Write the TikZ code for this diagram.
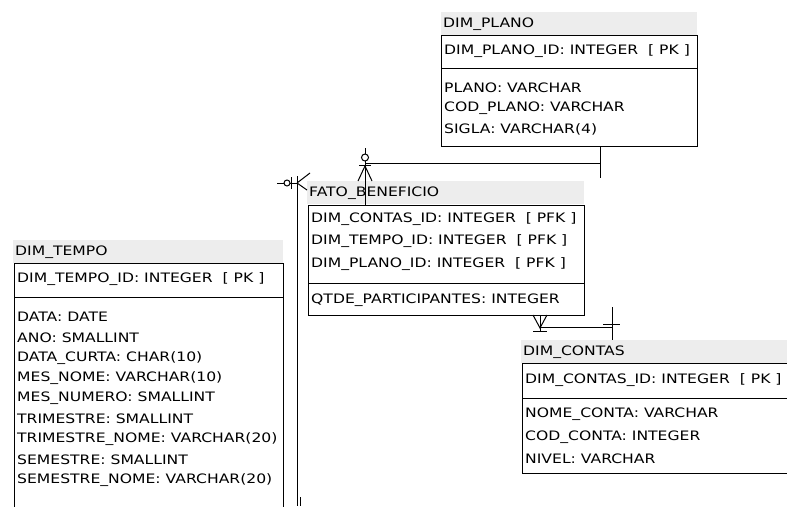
\documentclass[tikz,border=0pt]{standalone}
\usepackage{fontspec}
\setmainfont[FakeStretch=1.2]{DejaVu Sans}
\begin{document}
\begin{tikzpicture}[x=1pt,y=-1pt,
  tbl/.style={draw=black,line width=1pt,anchor=north west,inner sep=0pt,outer sep=0pt},
  hdr/.style={fill=black!7,draw=none,anchor=north west,inner sep=0pt,outer sep=0pt,minimum height=23pt},
  htxt/.style={anchor=west,inner sep=0pt,font=\fontsize{13}{15}\selectfont},
  ftxt/.style={anchor=west,inner sep=0pt,font=\fontsize{13}{15}\selectfont},
  sep/.style={line width=1pt},
  conn/.style={line width=1pt}]
\useasboundingbox (0,0) rectangle (787,506);
% ---------- DIM_PLANO
\node[hdr,minimum width=256pt] (planoh) at (441,12) {};
\node[htxt] (planot) at (443,24) {DIM\_PLANO};
\node[tbl,minimum width=256pt,minimum height=111pt] (plano) at (441,35) {};
\draw[sep] (441,68) -- (697,68);
\node[ftxt] (p1) at (444,51) {DIM\_PLANO\_ID: INTEGER\ \ [ PK ]};
\node[ftxt] (p2) at (444,88) {PLANO: VARCHAR};
\node[ftxt] (p3) at (444,108.5) {COD\_PLANO: VARCHAR};
\node[ftxt] (p4) at (444,129) {SIGLA: VARCHAR(4)};
% ---------- FATO_BENEFICIO
\node[hdr,minimum width=277pt] (fatoh) at (307,181) {};
\node[htxt] (fatot) at (309,193) {FATO\_BENEFICIO};
\node[tbl,minimum width=276pt,minimum height=110pt] (fato) at (308,205) {};
\draw[sep] (308,283) -- (584,283);
\node[ftxt] (f1) at (311,219) {DIM\_CONTAS\_ID: INTEGER\ \ [ PFK ]};
\node[ftxt] (f2) at (311,241.5) {DIM\_TEMPO\_ID: INTEGER\ \ [ PFK ]};
\node[ftxt] (f3) at (311,264) {DIM\_PLANO\_ID: INTEGER\ \ [ PFK ]};
\node[ftxt] (f4) at (311,300) {QTDE\_PARTICIPANTES: INTEGER};
% ---------- DIM_TEMPO
\node[hdr,minimum width=270pt] (tempoh) at (13,240) {};
\node[htxt] (tempot) at (15,252) {DIM\_TEMPO};
\node[tbl,minimum width=269pt,minimum height=260pt] (tempo) at (14,263) {};
\draw[sep] (14,297) -- (283,297);
\node[ftxt] (t0) at (17,279.5) {DIM\_TEMPO\_ID: INTEGER\ \ [ PK ]};
\foreach \t [count=\i from 0] in {DATA: DATE,ANO: SMALLINT,DATA\_CURTA: CHAR(10),MES\_NOME: VARCHAR(10),MES\_NUMERO: SMALLINT,TRIMESTRE: SMALLINT,TRIMESTRE\_NOME: VARCHAR(20),SEMESTRE: SMALLINT,SEMESTRE\_NOME: VARCHAR(20)}
  \node[ftxt] (tf\i) at (17,317+20.4*\i) {\t};
% ---------- DIM_CONTAS
\node[hdr,minimum width=270pt] (contash) at (521,340) {};
\node[htxt] (contast) at (523,352) {DIM\_CONTAS};
\node[tbl,minimum width=270pt,minimum height=110pt] (contas) at (522,363) {};
\draw[sep] (522,398) -- (792,398);
\node[ftxt] (c0) at (525,380) {DIM\_CONTAS\_ID: INTEGER\ \ [ PK ]};
\node[ftxt] (c1) at (525,414) {NOME\_CONTA: VARCHAR};
\node[ftxt] (c2) at (525,437) {COD\_CONTA: INTEGER};
\node[ftxt] (c3) at (525,459) {NIVEL: VARCHAR};
% ---------- connector DIM_PLANO -> FATO
\coordinate (pa) at (600,163);
\coordinate (pb) at (365,163);
\draw[conn] (plano.south -| pa) -- (600,178);
\draw[conn] (pa) -- (pb);
\draw[conn] (365,148) -- (fato.north -| pb);
\draw[conn] (365,166) -- (358,181) (365,166) -- (372,181);
\draw[conn] (359,165) -- (371,165);
\draw[conn,fill=white] (365,157.5) circle (3.5pt);
\draw[conn] (591,163) -- (600,163);
% ---------- connector FATO -> DIM_CONTAS
\coordinate (ca) at (540,327);
\coordinate (cb) at (612,327);
\draw[conn] (ca) -- (cb);
\draw[conn] (612,307) -- (contash.north -| cb);
\draw[conn] (603,324) -- (620,324);
\draw[conn] (533,315) -- (540,328) -- (547,315);
\draw[conn] (fato.south -| ca) -- (540,331);
\draw[conn] (533,331) -- (547,331);
% ---------- connector DIM_TEMPO -> FATO
\coordinate (ta) at (297,183);
\draw[conn] (297,176) -- (297,506);
\draw[conn] (277,183) -- (ta);
\draw[conn] (ta) -- (310,173) (ta) -- (307,190);
\draw[conn] (291,177) -- (291,189);
\draw[conn,fill=white] (287,183) circle (3pt);
\draw[conn] (300,497) -- (300,506);
\end{tikzpicture}
\end{document}
